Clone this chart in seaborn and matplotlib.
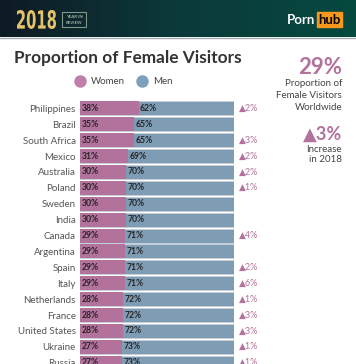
import matplotlib.pyplot as plt
import numpy as np
import pandas as pd
import seaborn as sns
from matplotlib.colors import LinearSegmentedColormap
from matplotlib.font_manager import FontProperties
from matplotlib.lines import Line2D
from matplotlib.patches import PathPatch, Rectangle
from matplotlib.text import TextPath
from matplotlib.transforms import Affine2D

W, H = 356, 364

countries = [
    "Philippines", "Brazil", "South Africa", "Mexico", "Australia", "Poland",
    "Sweden", "India", "Canada", "Argentina", "Spain", "Italy", "Netherlands",
    "France", "United States", "Ukraine", "Russia",
]
women = [38, 35, 35, 31, 30, 30, 30, 30, 29, 29, 29, 29, 28, 28, 28, 27, 27]
men = [62, 65, 65, 69, 70, 70, 70, 70, 71, 71, 71, 71, 72, 72, 72, 73, 73]
increase = [2, None, 3, 2, 2, 1, None, None, 4, None, 2, 6, 1, 3, 3, 1, 1]

worldwide_share = 29
worldwide_increase = 3

PINK = "#b3729c"
BLUE = "#7f9cb5"
TEXT = "#444444"

sns.set_theme(style="white")
plt.rcParams["font.family"] = ["Lato", "DejaVu Sans"]


def fx(x):
    return x / W


def fy(y):
    return 1 - y / H


def squeezed_text(fig, s, x0, x1, y0, y1, color):
    # text path stretched into a pixel box (y measured from the top)
    path = TextPath((0, 0), s, size=10, prop=FontProperties(family="DejaVu Sans", weight="bold"))
    ext = path.get_extents()
    tr = (Affine2D().translate(-ext.x0, -ext.y0)
          .scale((x1 - x0) / ext.width, (y1 - y0) / ext.height)
          .translate(x0, H - y1))
    fig.add_artist(PathPatch(path, transform=tr, color=color, lw=0))


fig = plt.figure(figsize=(W / 100, H / 100), dpi=100)

# header band
hdr = fig.add_axes([0, fy(37), 1, 37 / H])
grad = np.linspace(0, 1, 256).reshape(1, -1)
cmap = LinearSegmentedColormap.from_list("hdr", ["#0e1a24", "#0b3a3a", "#05493f"])
hdr.imshow(grad, aspect="auto", cmap=cmap, extent=[0, W, 37, 0])
hdr.set_xlim(0, W)
hdr.set_ylim(37, 0)
hdr.axis("off")
squeezed_text(fig, "2018", 17, 56, 10, 29, "#e6c26b")
hdr.add_patch(Rectangle((62, 12), 24, 15, fill=False, ec="#7f968c", lw=0.8))
hdr.text(74, 16.5, "YEAR IN", color="#9fb3a8", fontsize=3.2, fontweight="bold",
         ha="center", va="center")
hdr.text(74, 22.5, "REVIEW", color="#9fb3a8", fontsize=3.2, fontweight="bold",
         ha="center", va="center")
hdr.text(287, 19.5, "Porn", color="white", fontsize=9.5, fontweight="bold",
         ha="left", va="center")
hdr.add_patch(Rectangle((317, 12), 25, 15, color="#f7971d"))
hdr.text(329.5, 19.5, "hub", color="black", fontsize=9.5, fontweight="bold",
         ha="center", va="center")
fig.add_artist(Line2D([0, 1], [fy(37.5), fy(37.5)], color="#a3aab0", lw=1))

# title
fig.text(fx(14), fy(58.5), "Proportion of Female Visitors", fontsize=12.4,
         fontweight="bold", color="#333333", ha="left", va="center")

handles = [
    Line2D([], [], marker="o", ls="", color="#c07fa9", markersize=8, label="Women"),
    Line2D([], [], marker="o", ls="", color="#7fa0bc", markersize=8, label="Men"),
]
fig.legend(handles=handles, loc="center", bbox_to_anchor=(fx(124), fy(82)),
           ncol=2, frameon=False, fontsize=7, handletextpad=0.6,
           handlelength=1.0, columnspacing=1.3, labelcolor=TEXT)

# bars
df = pd.DataFrame({"country": countries, "women": women, "men": men})
df["total"] = df["women"] + df["men"]

top, pitch = 100.4, 15.9
ax = fig.add_axes([fx(80), fy(top + pitch * len(countries)), 154 / W,
                   pitch * len(countries) / H])
sns.barplot(data=df, x="total", y="country", color=BLUE, width=0.88,
            saturation=1, ax=ax, edgecolor="#c8d4de", linewidth=0.4)
sns.barplot(data=df, x="women", y="country", color=PINK, width=0.88,
            saturation=1, ax=ax, edgecolor="none")
ax.set_xlim(0, 100)
ax.set_ylim(len(countries) - 0.5, -0.5)
ax.set_xlabel("")
ax.set_ylabel("")
ax.set_xticks([])
ax.tick_params(axis="y", length=0, pad=3, labelsize=7, labelcolor="#555555")
sns.despine(ax=ax, left=True, bottom=True)

for i, (w, m, inc) in enumerate(zip(women, men, increase)):
    ax.text(1, i, f"{w}%", fontsize=6.2, fontweight="bold", color="#262626",
            va="center", ha="left")
    ax.text(w + 1, i, f"{m}%", fontsize=6.2, fontweight="bold", color="#262626",
            va="center", ha="left")
    if inc is not None:
        ax.text(103.2, i, f"\u25b2{inc}%", fontsize=6.5, color=PINK,
                va="center", ha="left", clip_on=False)

# side summary
fig.text(fx(342), fy(67), f"{worldwide_share}%", fontsize=16, fontweight="bold",
         color=PINK, ha="right", va="center")
for y, line in zip([83.5, 95.5, 107.5],
                   ["Proportion of", "Female Visitors", "Worldwide"]):
    fig.text(fx(342), fy(y), line, fontsize=7, color=TEXT, ha="right", va="center")
fig.text(fx(342), fy(134), f"\u25b2{worldwide_increase}%", fontsize=13,
         fontweight="bold", color=PINK, ha="right", va="center")
for y, line in zip([149, 159.5], ["Increase", "in 2018"]):
    fig.text(fx(342), fy(y), line, fontsize=7, color=TEXT, ha="right", va="center")

fig.savefig("out.png", dpi=100)
